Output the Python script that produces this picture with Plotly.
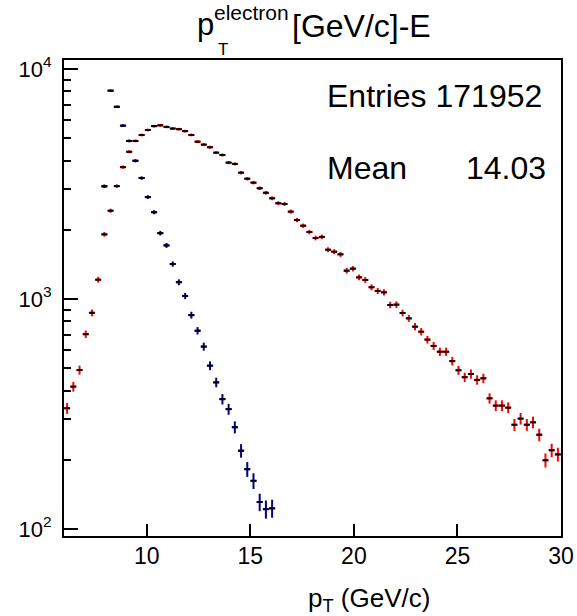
import plotly.graph_objects as go

# ---- data ----
red_x = [6.15, 6.45, 6.75, 7.05, 7.35, 7.65, 7.95, 8.25, 8.55, 8.85,
         9.15, 9.45, 9.75, 10.05, 10.35, 10.65, 10.95, 11.25, 11.55, 11.85,
         12.15, 12.45, 12.75, 13.05, 13.35, 13.65, 13.95, 14.25, 14.55, 14.85,
         15.15, 15.45, 15.75, 16.05, 16.35, 16.65, 16.95, 17.25, 17.55, 17.85,
         18.15, 18.45, 18.75, 19.05, 19.35, 19.65, 19.95, 20.25, 20.55, 20.85,
         21.15, 21.45, 21.75, 22.05, 22.35, 22.65, 22.95, 23.25, 23.55, 23.85,
         24.15, 24.45, 24.75, 25.05, 25.35, 25.65, 25.95, 26.25, 26.55, 26.85,
         27.15, 27.45, 27.75, 28.05, 28.35, 28.65, 28.95, 29.25, 29.55, 29.85]
red_y = [335, 416, 491, 703, 871, 1213, 1910, 2420, 3096, 3743,
         4365, 4866, 5165, 5430, 5645, 5690, 5600, 5510, 5475, 5370,
         5165, 4830, 4690, 4570, 4327, 4227, 3917, 3866, 3542, 3333,
         3205, 3030, 2897, 2741, 2608, 2589, 2398, 2204, 2083, 1955,
         1842, 1862, 1638, 1606, 1564, 1328, 1355, 1242, 1210, 1125,
         1084, 1069, 942, 945, 869, 824, 758, 721, 666, 625,
         590, 590, 537, 490, 457, 472, 445, 452, 370, 344,
         344, 337, 284, 302, 284, 291, 257, 199, 220, 211]

blue_x = [7.95, 8.25, 8.55, 8.85, 9.15, 9.45, 9.75, 10.05, 10.35, 10.65,
          10.95, 11.25, 11.55, 11.85, 12.15, 12.45, 12.75, 13.05, 13.35, 13.65,
          13.95, 14.25, 14.55, 14.85, 15.15, 15.45, 15.75, 16.05]
blue_y = [3090, 8050, 6850, 5670, 4866, 3990, 3357, 2774, 2384, 1933,
          1710, 1419, 1183, 1031, 851, 728, 621, 513, 434, 367,
          332, 277, 219, 182, 162, 131, 122, 123]

y_tickvals = [100, 1000, 10000]
y_ticktext = ["10<sup>2</sup>", "10<sup>3</sup>", "10<sup>4</sup>"]
y_minor = [200, 300, 400, 500, 600, 700, 800, 900,
           2000, 3000, 4000, 5000, 6000, 7000, 8000, 9000]
x_tickvals = [10, 15, 20, 25, 30]

entries_text = "Entries 171952"
mean_label = "Mean"
mean_value = "14.03"

FONT = "Liberation Sans, Arial, sans-serif"


def series(x, y, color):
    return go.Scatter(
        x=x, y=y, mode="markers",
        marker=dict(symbol="line-ew", size=4, color="black",
                    line=dict(color="black", width=2)),
        error_y=dict(type="data", array=[v ** 0.5 for v in y], visible=True,
                     color=color, thickness=2, width=0),
        error_x=dict(type="constant", value=0.15, visible=True,
                     color=color, thickness=2, width=0),
        showlegend=False, hoverinfo="x+y",
    )


fig = go.Figure()
fig.add_trace(series(red_x, red_y, "#ff0000"))
fig.add_trace(series(blue_x, blue_y, "#00008c"))

L, R, T, B = 64, 16, 60, 80
W, H = 577, 616
PW, PH = W - L - R, H - T - B


def px(xp):
    return (xp - L) / PW


def py(yp):
    return (T + PH - yp) / PH


fig.update_layout(
    template="none",
    width=W, height=H, autosize=False,
    margin=dict(l=L, r=R, t=T, b=B, pad=0),
    paper_bgcolor="white", plot_bgcolor="white",
    font=dict(family=FONT, color="black"),
    showlegend=False,
    xaxis=dict(
        range=[6, 30], showgrid=False, zeroline=False, automargin=False,
        showline=True, linecolor="black", linewidth=2, mirror=True,
        ticks="inside", ticklen=12, tickwidth=2, tickcolor="black",
        tickvals=x_tickvals, tickfont=dict(size=23, family=FONT),
        ticklabelstandoff=-2,
    ),
    yaxis=dict(
        type="log", range=[1.9696, 4.0391], showgrid=False, zeroline=False,
        automargin=False,
        showline=True, linecolor="black", linewidth=2, mirror=True,
        ticks="inside", ticklen=14, tickwidth=2, tickcolor="black",
        tickvals=y_tickvals, ticktext=y_ticktext,
        tickfont=dict(size=22, family=FONT),
        ticklabelstandoff=6,
        minor=dict(tickvals=y_minor, ticks="inside", ticklen=7,
                   tickwidth=2, tickcolor="black"),
    ),
)

ann = []
# title: p with stacked super/subscript
ann.append(dict(text="p", x=px(195), y=py(24), xanchor="left", yanchor="middle",
                font=dict(size=31)))
ann.append(dict(text="electron", x=px(212), y=py(13), xanchor="left", yanchor="middle",
                font=dict(size=21)))
ann.append(dict(text="T", x=px(216), y=py(49), xanchor="left", yanchor="middle",
                font=dict(size=17)))
ann.append(dict(text="[GeV/c]-E", x=px(290), y=py(26), xanchor="left", yanchor="middle",
                font=dict(size=32)))
# stats
ann.append(dict(text=entries_text, x=px(325), y=py(96), xanchor="left", yanchor="middle",
                font=dict(size=32)))
ann.append(dict(text=mean_label, x=px(325), y=py(168), xanchor="left", yanchor="middle",
                font=dict(size=32)))
ann.append(dict(text=mean_value, x=px(548), y=py(168), xanchor="right", yanchor="middle",
                font=dict(size=32)))
# x axis title
ann.append(dict(text="p<sub>T</sub> (GeV/c)", x=px(369), y=py(599), xanchor="center",
                yanchor="middle", font=dict(size=26)))

for a in ann:
    a.update(xref="paper", yref="paper", showarrow=False)
    a["font"]["family"] = FONT
    a["font"]["color"] = "black"
fig.update_layout(annotations=ann)

fig.write_html("out.html", config={"displayModeBar": False},
               post_script="document.body.style.margin='0';")
